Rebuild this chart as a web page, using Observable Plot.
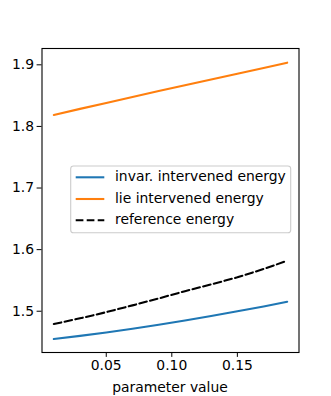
<!DOCTYPE html>
<html><head><meta charset="utf-8">
<script src="https://cdn.jsdelivr.net/npm/d3@7"></script>
<script src="https://cdn.jsdelivr.net/npm/@observablehq/plot@0.6"></script>
<style>body{margin:0;background:#fff;} #chart{position:relative;width:331px;height:396px;}</style>
</head><body><div id="chart"></div>
<script>
const params = [0.01, 0.03, 0.05, 0.07, 0.09, 0.11, 0.13, 0.15, 0.17, 0.188];
const invarEnergy = [1.4549, 1.4600, 1.4656, 1.4716, 1.4780, 1.4850, 1.4924, 1.5000, 1.5078, 1.5154];
const lieEnergy = [1.8187, 1.8285, 1.8382, 1.8478, 1.8574, 1.8668, 1.8762, 1.8855, 1.8948, 1.9035];
const referenceEnergy = [1.4792, 1.4885, 1.4985, 1.5095, 1.5208, 1.5325, 1.5435, 1.5550, 1.5685, 1.5820];
const seriesNames = ["invar. intervened energy", "lie intervened energy", "reference energy"];
const seriesColors = ["#1f77b4", "#ff7f0e", "#000000"];
const xTicks = [0.05, 0.10, 0.15];
const yTicks = [1.5, 1.6, 1.7, 1.8, 1.9];
const xLabel = "parameter value";

const rows = (vals) => params.map((p, i) => ({p, v: vals[i]}));

const plot = Plot.plot({
  width: 331, height: 396,
  marginLeft: 41.5, marginRight: 32.5, marginTop: 48, marginBottom: 44,
  style: {fontFamily: "DejaVu Sans", fontSize: "13.9px", color: "black", background: "white"},
  x: {domain: [0.001, 0.197]},
  y: {domain: [1.433, 1.9265]},
  marks: [
    Plot.axisX({ticks: xTicks, tickFormat: d3.format(".2f"), tickSize: 4.9, tickPadding: 3, label: null}),
    Plot.axisY({ticks: yTicks, tickFormat: d3.format(".1f"), tickSize: 4.9, tickPadding: 3, label: null}),
    Plot.lineY(rows(invarEnergy), {x: "p", y: "v", stroke: seriesColors[0], strokeWidth: 2.08}),
    Plot.lineY(rows(lieEnergy), {x: "p", y: "v", stroke: seriesColors[1], strokeWidth: 2.08}),
    Plot.lineY(rows(referenceEnergy), {x: "p", y: "v", stroke: seriesColors[2], strokeWidth: 2.08, strokeDasharray: "7.7,3.3"}),
    Plot.frame({stroke: "black", strokeWidth: 1.1})
  ]
});
document.getElementById("chart").appendChild(plot);

const svg = d3.select(plot);
// x axis label
svg.append("text").attr("x", (41.5 + 298.5) / 2).attr("y", 388)
  .attr("text-anchor", "middle").attr("dominant-baseline", "middle")
  .attr("font-family", "DejaVu Sans").attr("font-size", "13.9px").attr("fill", "black")
  .text(xLabel);

// legend
const lg = svg.append("g").attr("text-anchor", "start");
lg.append("rect").attr("x", 70.7).attr("y", 166).attr("width", 220).attr("height", 66.7)
  .attr("rx", 2.8).attr("fill", "white").attr("fill-opacity", 0.8)
  .attr("stroke", "#cccccc").attr("stroke-width", 1.1);
const rowY = [177.3, 199, 220.3];
seriesNames.forEach((name, i) => {
  lg.append("line").attr("x1", 75.7).attr("x2", 104.3).attr("y1", rowY[i]).attr("y2", rowY[i])
    .attr("stroke", seriesColors[i]).attr("stroke-width", 2.08)
    .attr("stroke-dasharray", i === 2 ? "7.7,3.3" : null);
  lg.append("text").attr("x", 115).attr("y", rowY[i]).attr("dominant-baseline", "middle")
    .attr("text-anchor", "start")
    .attr("font-family", "DejaVu Sans").attr("font-size", "13.9px").attr("fill", "black")
    .text(name);
});
</script></body></html>
